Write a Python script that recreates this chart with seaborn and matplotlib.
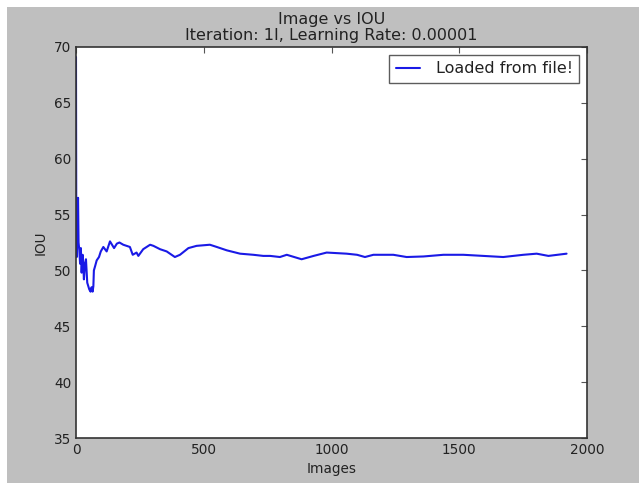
import numpy as np
import pandas as pd
import matplotlib
matplotlib.use('Agg')
import matplotlib.pyplot as plt
from matplotlib.patches import Rectangle
import seaborn as sns

# IOU per image
images = [0, 1, 3, 5, 8, 10, 13, 16, 19, 22,
          26, 29, 31, 35, 39, 44, 48, 52, 57, 61,
          65, 68, 70, 75, 81, 90, 97, 107, 120, 133,
          149, 160, 170, 185, 198, 211, 222, 237, 244, 263,
          290, 303, 329, 355, 387, 407, 440, 472, 524, 551,
          590, 642, 694, 733, 760, 798, 825, 883, 930, 981,
          1059, 1100, 1131, 1164, 1242, 1294, 1360, 1438, 1516, 1594,
          1672, 1751, 1803, 1849, 1920]
iou = [69.1, 55.0, 51.2, 54.0, 56.5, 52.5, 51.8, 50.6, 52.0, 49.8,
       51.4, 50.2, 49.2, 50.6, 51.0, 48.9, 48.6, 48.3, 48.1, 48.5,
       48.1, 48.6, 50.0, 50.4, 50.9, 51.2, 51.7, 52.1, 51.7, 52.6,
       52.0, 52.4, 52.5, 52.3, 52.2, 52.1, 51.4, 51.6, 51.3, 51.9,
       52.3, 52.2, 51.9, 51.7, 51.2, 51.4, 52.0, 52.2, 52.3, 52.1,
       51.8, 51.5, 51.4, 51.3, 51.3, 51.2, 51.4, 51.0, 51.3, 51.6,
       51.5, 51.4, 51.2, 51.4, 51.4, 51.2, 51.25, 51.4, 51.4, 51.3,
       51.2, 51.4, 51.5, 51.3, 51.5]

title = 'Image vs IOU\nIteration: 1I, Learning Rate: 0.00001'
series_label = 'Loaded from file!'

df = pd.DataFrame({'Images': images, 'IOU': iou})

sns.set_style('white')
plt.rcParams['font.family'] = ['DejaVu Sans']
plt.rcParams['xtick.direction'] = 'in'
plt.rcParams['ytick.direction'] = 'in'

fig = plt.figure(figsize=(6.39, 4.83), dpi=100, facecolor='white')
# grey canvas with thin white margin on top and left, as in the screenshot
fig.patches.append(Rectangle((7 / 639, 0), 1, 476 / 483, transform=fig.transFigure,
                             facecolor='#bfbfbf', edgecolor='none', zorder=-1))
ax = fig.add_axes([76 / 639, 45 / 483, 511 / 639, 391 / 483])
ax.set_facecolor('white')

sns.lineplot(data=df, x='Images', y='IOU', ax=ax, color='#1a1ae6', lw=1.5,
             label=series_label, estimator=None)

ax.set_xlim(0, 2000)
ax.set_ylim(35, 70)
ax.set_xticks(np.arange(0, 2001, 500))
ax.set_yticks(np.arange(35, 71, 5))
ax.tick_params(axis='both', labelsize=9.8, length=4, width=0.8, color='#555555',
               top=True, right=True, labelcolor='#222222')
for s in ax.spines.values():
    s.set_color('#333333')
    s.set_linewidth(1.2)

ax.set_title(title, fontsize=11.5, color='#222222', linespacing=1.1, pad=5)
ax.set_xlabel('Images', fontsize=9.8, color='#222222')
ax.set_ylabel('IOU', fontsize=9.8, color='#222222')

leg = ax.legend(loc='upper right', fontsize=11.5, frameon=True, fancybox=False,
                handlelength=1.5, handletextpad=1.0, borderpad=0.4,
                borderaxespad=0.5)
leg.get_frame().set_edgecolor('#333333')
leg.get_frame().set_linewidth(1.0)
for t in leg.get_texts():
    t.set_color('#222222')

fig.savefig('out.png', dpi=100, facecolor=fig.get_facecolor())
